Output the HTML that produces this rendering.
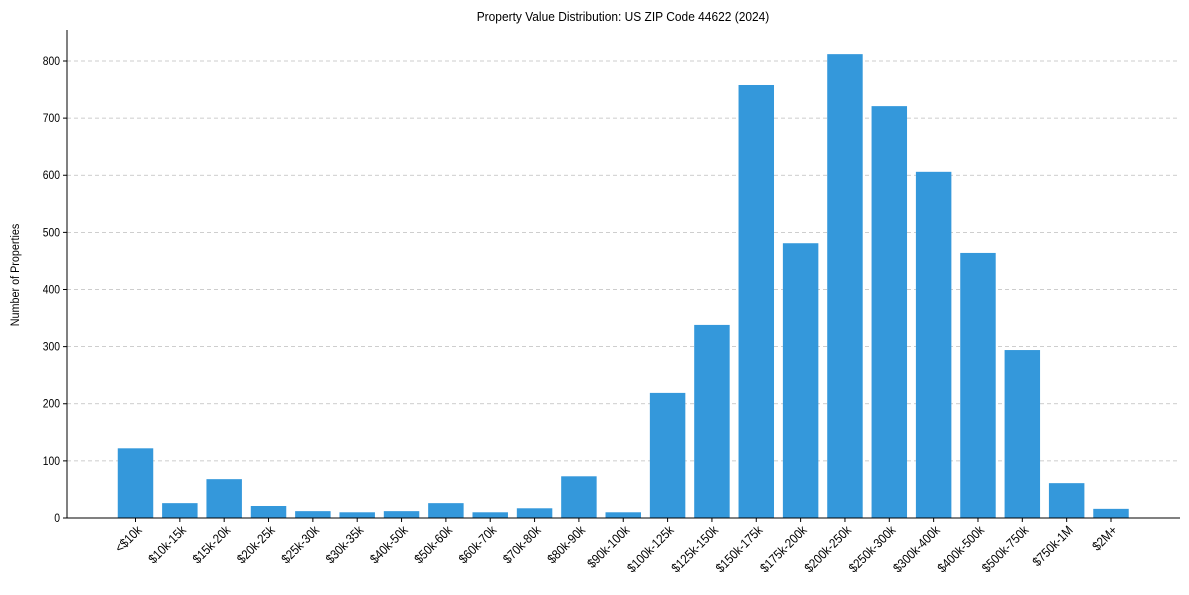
<!DOCTYPE html>
<html><head><meta charset="utf-8"><style>
body{margin:0;background:#fff}
svg{font-family:"Liberation Sans",Arial,sans-serif}
</style></head><body>
<svg id="chart" width="1189" height="590" xmlns="http://www.w3.org/2000/svg">
<text x="623" y="21" text-anchor="middle" font-size="13" transform="translate(623,0) scale(0.92,1) translate(-623,0)">Property Value Distribution: US ZIP Code 44622 (2024)</text>
<text x="0" y="0" font-size="12" text-anchor="middle" transform="translate(19,275) rotate(-90) scale(0.9,1)">Number of Properties</text>
<g id="grid"></g><g id="bars"></g><g id="axes"></g>
</svg>
<script>
const categories=["<$10k","$10k-15k","$15k-20k","$20k-25k","$25k-30k","$30k-35k","$40k-50k","$50k-60k","$60k-70k","$70k-80k","$80k-90k","$90k-100k","$100k-125k","$125k-150k","$150k-175k","$175k-200k","$200k-250k","$250k-300k","$300k-400k","$400k-500k","$500k-750k","$750k-1M","$2M+"];
const counts=[122,26,68,21,12,10,12,26,10,17,73,10,219,338,758,481,812,721,606,464,294,61,16];
const yTicks=[0,100,200,300,400,500,600,700,800];
const NS="http://www.w3.org/2000/svg";
const L=67,R=1180,T=30,B=518;
const y0=518,yScale=(61-518)/800;
const y=v=>y0+v*yScale;
const step=(1111-135.5)/22;
const x=i=>135.5+i*step;
const bw=step*0.8;
function mk(tag,attrs,parent){const e=document.createElementNS(NS,tag);for(const k in attrs)e.setAttribute(k,attrs[k]);parent.appendChild(e);return e;}
const grid=document.getElementById('grid'),bars=document.getElementById('bars'),axes=document.getElementById('axes');
yTicks.forEach(t=>{
  const g=mk('line',{x1:L,x2:R,y1:y(t),y2:y(t),stroke:'#bdbdbd','stroke-dasharray':'4,3','stroke-width':0.8},grid);
  
  
  const tk=mk('line',{x1:L-4,x2:L,y1:y(t),y2:y(t),stroke:'#000'},axes);
  
  
  const lb=mk('text',{x:L-7,y:y(t)+4,'text-anchor':'end','font-size':11.5,transform:`translate(${L-7},0) scale(0.9,1) translate(${-(L-7)},0)`},axes);
  lb.textContent=t;
  
  
});
categories.forEach((c,i)=>{
  const r=mk('rect',{x:x(i)-bw/2,y:y(counts[i]),width:bw,height:y0-y(counts[i]),fill:'#3498db'},bars);
  
  
  const tk=mk('line',{x1:x(i),x2:x(i),y1:B,y2:B+4,stroke:'#000'},axes);
  
  
  const lb=mk('text',{'text-anchor':'end','font-size':13,transform:`translate(${x(i)+7},${B+13}) rotate(-45) scale(0.88,1)`},axes);
  lb.textContent=c;
  
  
});
const ax1=mk('line',{x1:L,x2:L,y1:T,y2:B,stroke:'#000'},axes);


const ax2=mk('line',{x1:L,x2:R,y1:B,y2:B,stroke:'#000'},axes);


</script>
</body></html>
